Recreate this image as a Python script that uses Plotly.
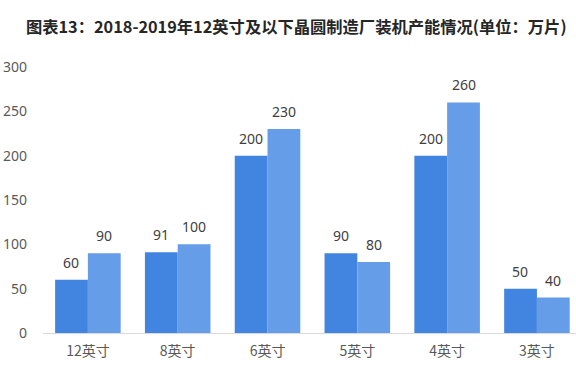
import plotly.graph_objects as go

categories = ["12英寸", "8英寸", "6英寸", "5英寸", "4英寸", "3英寸"]
values_2018 = [60, 91, 200, 90, 200, 50]
values_2019 = [90, 100, 230, 80, 260, 40]
y_ticks = [0, 50, 100, 150, 200, 250, 300]

title_text = "图表13：2018-2019年12英寸及以下晶圆制造厂装机产能情况(单位：万片)"

label_font = dict(size=14, color="#404040", family="Noto Sans, DejaVu Sans")

fig = go.Figure()
fig.add_trace(go.Bar(
    x=categories, y=values_2018, name="2018",
    marker=dict(color="#4285E1", line=dict(width=0)),
))
fig.add_trace(go.Bar(
    x=categories, y=values_2019, name="2019",
    marker=dict(color="#669DE8", line=dict(width=0)),
))

for cat, v in zip(categories, values_2018):
    fig.add_annotation(x=cat, y=v, text=str(v), showarrow=False, yanchor="bottom",
                       xshift=-16.5, yshift=6, font=label_font)
for cat, v in zip(categories, values_2019):
    fig.add_annotation(x=cat, y=v, text=str(v), showarrow=False, yanchor="bottom",
                       xshift=16.5, yshift=6, font=label_font)

fig.update_layout(
    width=576, height=367,
    margin=dict(l=43, r=0, t=67, b=34, autoexpand=False),
    paper_bgcolor="white", plot_bgcolor="white",
    showlegend=False,
    barmode="group", bargap=0.27, bargroupgap=0,
    title=dict(text="<b>" + title_text + "</b>", x=0.045, xanchor="left", y=0.925, yanchor="middle",
               font=dict(size=16.3, color="#262626", family="Noto Sans CJK SC")),
    font=dict(family="Noto Sans CJK SC", color="#595959"),
    xaxis=dict(
        range=[-0.5, 5.435], showgrid=False, showline=True, linecolor="#D9D9D9", linewidth=1,
        ticks="", automargin=False, ticklabelstandoff=5,
        tickfont=dict(size=14, color="#595959", family="Noto Sans CJK SC"),
    ),
    yaxis=dict(
        range=[0, 300], tickvals=y_ticks, showgrid=False, showline=False, zeroline=False,
        ticks="", ticklabelstandoff=15, automargin=False,
        tickfont=dict(size=14, color="#595959", family="Noto Sans, DejaVu Sans"),
    ),
)

fig.write_html("out.html", post_script="document.body.style.margin='0';",
               config={"displayModeBar": False})
